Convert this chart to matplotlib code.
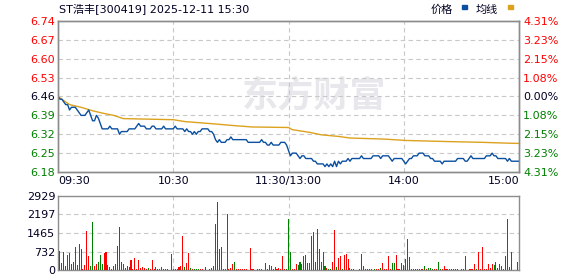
import matplotlib
matplotlib.use("Agg")
import matplotlib.pyplot as plt

# intraday data for ST浩丰 (300419), one point per minute, 09:30 -> 15:00 (241 points)
price = [
    6.46, 6.45, 6.45, 6.44, 6.43, 6.43, 6.41, 6.42, 6.42, 6.42,
    6.41, 6.40, 6.39, 6.39, 6.39, 6.40, 6.41, 6.39, 6.37, 6.37,
    6.39, 6.38, 6.36, 6.34, 6.34, 6.34, 6.34, 6.35, 6.34, 6.34,
    6.34, 6.34, 6.32, 6.33, 6.33, 6.33, 6.33, 6.34, 6.34, 6.34,
    6.34, 6.35, 6.36, 6.35, 6.35, 6.35, 6.34, 6.34, 6.34, 6.35,
    6.35, 6.34, 6.34, 6.34, 6.34, 6.35, 6.34, 6.34, 6.34, 6.34,
    6.34, 6.35, 6.34, 6.34, 6.34, 6.34, 6.33, 6.34, 6.33, 6.33,
    6.32, 6.33, 6.32, 6.33, 6.33, 6.34, 6.34, 6.34, 6.34, 6.33,
    6.33, 6.32, 6.30, 6.29, 6.30, 6.29, 6.29, 6.29, 6.30, 6.30,
    6.31, 6.30, 6.30, 6.30, 6.30, 6.30, 6.30, 6.30, 6.30, 6.29,
    6.29, 6.29, 6.29, 6.29, 6.29, 6.29, 6.30, 6.29, 6.29, 6.28,
    6.28, 6.29, 6.28, 6.28, 6.28, 6.28, 6.29, 6.29, 6.29, 6.28,
    6.26, 6.24, 6.25, 6.25, 6.25, 6.24, 6.23, 6.24, 6.24, 6.23,
    6.23, 6.23, 6.23, 6.22, 6.22, 6.21, 6.21, 6.21, 6.21, 6.20,
    6.21, 6.20, 6.21, 6.20, 6.22, 6.20, 6.22, 6.21, 6.22, 6.22,
    6.22, 6.23, 6.22, 6.23, 6.23, 6.23, 6.23, 6.23, 6.24, 6.23,
    6.23, 6.23, 6.23, 6.23, 6.24, 6.24, 6.24, 6.24, 6.23, 6.24,
    6.24, 6.24, 6.24, 6.23, 6.22, 6.23, 6.23, 6.23, 6.23, 6.23,
    6.22, 6.21, 6.22, 6.23, 6.23, 6.24, 6.24, 6.24, 6.25, 6.25,
    6.25, 6.24, 6.24, 6.24, 6.23, 6.23, 6.22, 6.22, 6.22, 6.22,
    6.21, 6.22, 6.22, 6.22, 6.22, 6.22, 6.22, 6.22, 6.23, 6.23,
    6.23, 6.23, 6.22, 6.22, 6.23, 6.24, 6.23, 6.23, 6.23, 6.23,
    6.23, 6.23, 6.23, 6.24, 6.24, 6.24, 6.25, 6.24, 6.24, 6.23,
    6.23, 6.23, 6.23, 6.23, 6.22, 6.23, 6.22, 6.22, 6.22, 6.22,
    6.22,
]

# average price line (read at the points where it changes)
avg_minutes = [0, 2, 6, 12, 18, 24, 29, 34, 60, 66, 82, 90, 101, 120, 122,
               131, 137, 146, 152, 170, 181, 202, 221, 234, 240]
avg_values = [6.46, 6.45, 6.43, 6.42, 6.407, 6.397, 6.39, 6.378, 6.374, 6.367,
              6.358, 6.353, 6.347, 6.345, 6.337, 6.327, 6.318, 6.312, 6.306,
              6.302, 6.297, 6.293, 6.29, 6.287, 6.286]

volume = [
    0, 750, 290, 720, 170, 600, 680, 250, 330, 920,
    180, 1040, 840, 50, 210, 1550, 560, 170, 1900, 170,
    250, 330, 600, 250, 680, 720, 210, 130, 50, 170,
    250, 960, 1710, 330, 250, 90, 170, 130, 410, 50,
    490, 50, 410, 90, 130, 90, 50, 90, 50, 410,
    40, 130, 40, 40, 130, 50, 50, 40, 0, 640,
    50, 50, 40, 130, 170, 1350, 130, 290, 680, 90,
    40, 40, 40, 40, 40, 40, 0, 130, 0, 40,
    90, 170, 1830, 2690, 840, 920, 40, 40, 2220, 40,
    90, 250, 330, 40, 40, 40, 40, 40, 40, 0,
    880, 40, 40, 0, 40, 40, 40, 0, 290, 40,
    210, 170, 40, 130, 40, 90, 40, 560, 40, 40,
    2030, 730, 40, 40, 250, 210, 330, 250, 570, 610,
    290, 290, 1360, 1520, 330, 1640, 850, 330, 730, 170,
    90, 50, 50, 330, 1600, 130, 490, 570, 40, 610,
    650, 450, 90, 40, 40, 0, 0, 40, 650, 170,
    40, 40, 40, 40, 0, 40, 40, 40, 90, 290,
    40, 40, 570, 40, 290, 290, 610, 40, 40, 290,
    210, 450, 1240, 530, 40, 40, 40, 40, 40, 40,
    40, 170, 40, 90, 90, 40, 40, 40, 330, 40,
    40, 170, 40, 40, 40, 40, 40, 40, 40, 0,
    40, 40, 570, 0, 40, 40, 40, 250, 40, 730,
    40, 920, 40, 40, 250, 90, 250, 210, 330, 90,
    250, 170, 40, 570, 2030, 130, 730, 0, 0, 330,
    0,
]
# 1 = up minute (red bar), 0 = down minute (green bar)
vol_up = [
    1, 1, 0, 0, 0, 1, 0, 1, 1, 1,
    0, 0, 0, 1, 1, 1, 1, 0, 0, 1,
    1, 0, 0, 0, 1, 1, 1, 1, 0, 1,
    1, 1, 0, 1, 1, 1, 1, 1, 1, 1,
    1, 1, 1, 1, 1, 1, 1, 0, 1, 1,
    1, 0, 1, 1, 1, 0, 0, 1, 1, 1,
    1, 0, 1, 1, 1, 1, 0, 1, 1, 0,
    1, 0, 0, 0, 1, 1, 1, 1, 1, 1,
    1, 1, 0, 0, 1, 0, 1, 0, 1, 1,
    1, 1, 0, 1, 1, 1, 1, 1, 1, 1,
    1, 1, 1, 1, 1, 1, 1, 1, 0, 1,
    0, 1, 0, 1, 1, 1, 1, 1, 1, 0,
    0, 0, 1, 1, 1, 0, 0, 1, 1, 0,
    1, 1, 1, 0, 1, 0, 1, 1, 1, 0,
    1, 0, 0, 1, 1, 0, 1, 1, 0, 1,
    1, 1, 0, 1, 1, 1, 1, 1, 0, 1,
    0, 1, 1, 1, 1, 0, 1, 1, 0, 1,
    1, 1, 1, 1, 0, 0, 1, 1, 0, 1,
    1, 0, 1, 1, 1, 1, 1, 1, 1, 1,
    1, 0, 1, 0, 0, 0, 1, 1, 0, 0,
    1, 1, 1, 1, 1, 1, 1, 1, 1, 1,
    1, 1, 0, 1, 1, 1, 1, 1, 0, 1,
    1, 1, 1, 1, 1, 1, 1, 0, 1, 0,
    1, 1, 1, 1, 0, 1, 0, 1, 1, 1,
    1,
]

price_ticks = [6.18, 6.25, 6.32, 6.39, 6.46, 6.53, 6.60, 6.67, 6.74]
price_labels = ["6.18", "6.25", "6.32", "6.39", "6.46", "6.53", "6.60", "6.67", "6.74"]
pct_labels = ["4.31%", "3.23%", "2.15%", "1.08%", "0.00%", "1.08%", "2.15%", "3.23%", "4.31%"]
vol_ticks = [0, 732, 1465, 2197, 2929]
vol_labels = ["0", "732", "1465", "2197", "2929"]
time_ticks = [0, 60, 120, 180, 240]
time_labels = ["09:30", "10:30", "11:30/13:00", "14:00", "15:00"]
title = "ST浩丰[300419] 2025-12-11 15:30"
pre_close = 6.46

plt.rcParams['font.family'] = ['DejaVu Sans', 'Noto Sans CJK SC']

W, H = 578, 276
RED = "#ff0000"
GREEN = "#008000"
DARK = "#000022"
BLUE = "#0a4fa0"
GOLD = "#dca21e"
GRID = "#c8c8c8"
EDGE = "#8c8c8c"

fig = plt.figure(figsize=(W / 100, H / 100), dpi=100)


def box(x0, y0, x1, y1):
    # pixel box -> figure fraction rect
    return [x0 / W, 1 - y1 / H, (x1 - x0) / W, (y1 - y0) / H]


ax = fig.add_axes(box(58, 21, 519, 172))
axv = fig.add_axes(box(58, 196, 519, 270))

minutes = list(range(len(price)))

# watermark
ax.text(0.555, 0.50, "东方财富", transform=ax.transAxes, fontsize=26,
        fontweight="bold", color="#e8e8ec", ha="center", va="center",
        family=["Noto Sans CJK SC"], zorder=0)

ax.plot(minutes, price, color=BLUE, lw=1.0, zorder=3)
ax.plot(avg_minutes, avg_values, color=GOLD, lw=1.0, zorder=2)

ax.set_xlim(0, 240)
ax.set_ylim(price_ticks[0], price_ticks[-1])
ax.set_yticks(price_ticks)
ax.set_yticklabels(price_labels)
ax.set_xticks(time_ticks)
ax.set_xticklabels(time_labels)
ax.tick_params(length=0, labelsize=8, pad=2)
ax.tick_params(axis="x", pad=3, colors=DARK)

for lab, v in zip(ax.get_yticklabels(), price_ticks):
    if v > pre_close + 1e-6:
        lab.set_color(RED)
    elif v < pre_close - 1e-6:
        lab.set_color(GREEN)
    else:
        lab.set_color(DARK)
xl = ax.get_xticklabels()
xl[0].set_ha("left")
xl[-1].set_ha("right")

ax2 = ax.twinx()
ax2.set_ylim(price_ticks[0], price_ticks[-1])
ax2.set_yticks(price_ticks)
ax2.set_yticklabels(pct_labels)
ax2.tick_params(length=0, labelsize=8, pad=3)
for lab, v in zip(ax2.get_yticklabels(), price_ticks):
    if v > pre_close + 1e-6:
        lab.set_color(RED)
    elif v < pre_close - 1e-6:
        lab.set_color(GREEN)
    else:
        lab.set_color(DARK)

# volume bars
colors = [RED if u else GREEN for u in vol_up]
axv.bar(minutes, volume, width=0.55, color=colors, lw=0, antialiased=False, zorder=3)
axv.set_xlim(0, 240)
axv.set_ylim(vol_ticks[0], vol_ticks[-1])
axv.set_yticks(vol_ticks)
axv.set_yticklabels(vol_labels)
axv.set_xticks(time_ticks)
axv.set_xticklabels([])
axv.tick_params(length=0, labelsize=8, pad=2, colors=DARK)

for a in (ax, axv):
    for v in time_ticks[1:-1]:
        a.axvline(v, color=GRID, lw=0.8, ls=(0, (4, 3)), zorder=1)
for v in price_ticks[1:-1]:
    ax.axhline(v, color=GRID, lw=0.8, ls=(0, (4, 3)), zorder=1)
for v in vol_ticks[1:-1]:
    axv.axhline(v, color=GRID, lw=0.8, ls=(0, (4, 3)), zorder=1)

for a in (ax, ax2, axv):
    for s in a.spines.values():
        s.set_color(EDGE)
        s.set_linewidth(1.0)

# title and legend on top
fig.text(59 / W, 1 - 9 / H, title, fontsize=8, color=DARK, va="center", ha="left")
fig.text(431 / W, 1 - 10 / H, "价格", fontsize=8, color=DARK, va="center", ha="left")
fig.patches.append(plt.Rectangle((462 / W, 1 - 9 / H), 5 / W, 4 / H,
                                 transform=fig.transFigure, color=BLUE))
fig.text(476 / W, 1 - 10 / H, "均线", fontsize=8, color=DARK, va="center", ha="left")
fig.patches.append(plt.Rectangle((508 / W, 1 - 9 / H), 5 / W, 4 / H,
                                 transform=fig.transFigure, color=GOLD))

fig.savefig("out.png", dpi=100)
